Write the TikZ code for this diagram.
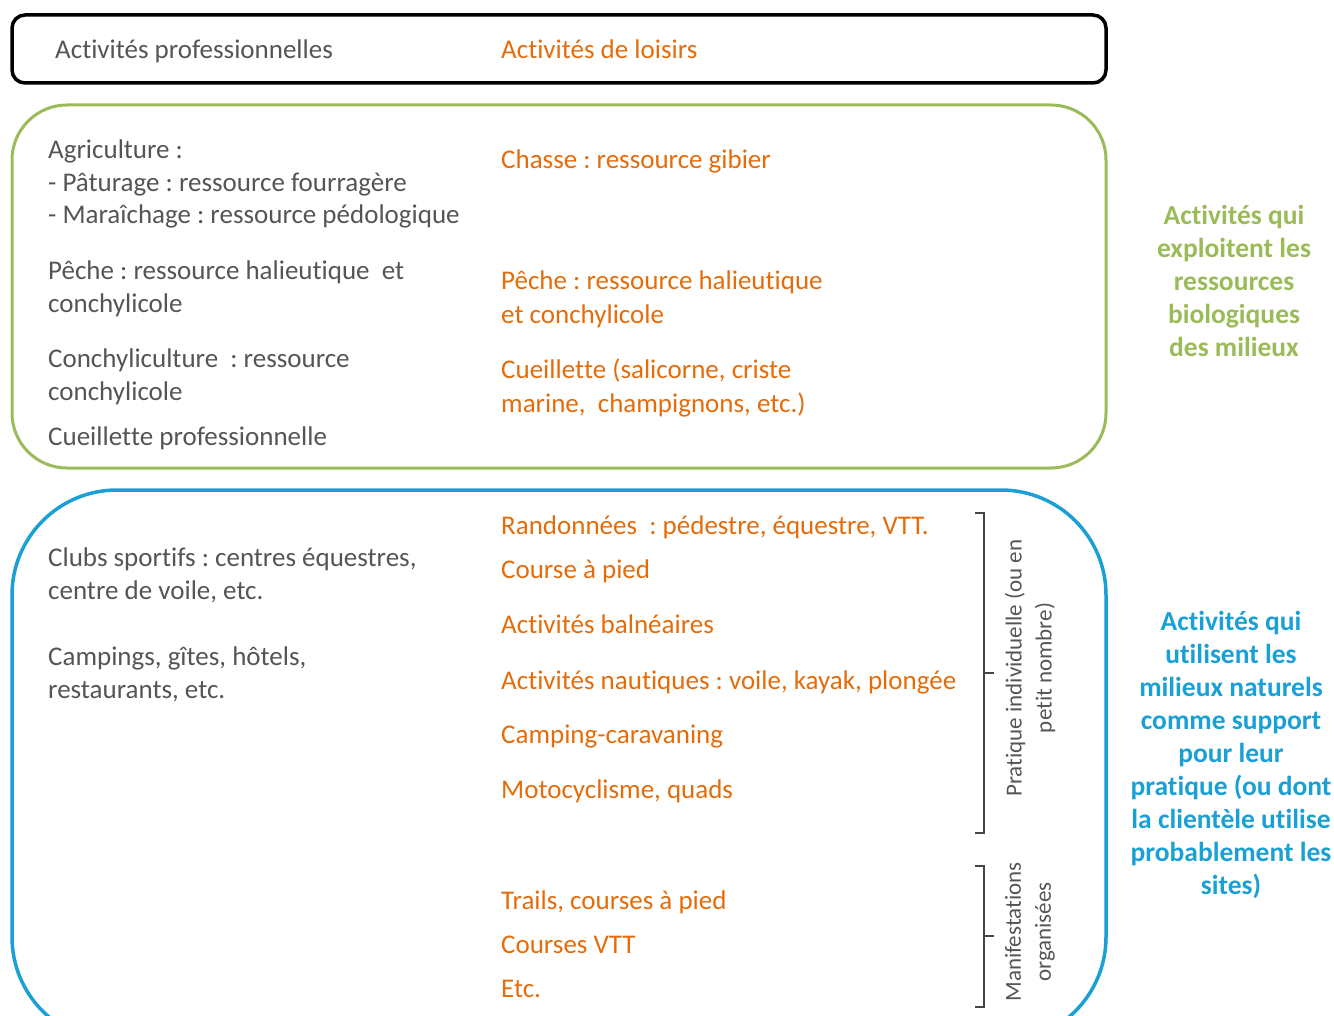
\documentclass[tikz,border=0pt]{standalone}
\usepackage{fontspec}
\setmainfont{Carlito}[Ligatures=CommonOff]
\usetikzlibrary{positioning}
\definecolor{txtgray}{RGB}{85,85,85}
\definecolor{orng}{RGB}{228,108,10}
\definecolor{grn}{RGB}{155,187,89}
\definecolor{blu}{RGB}{27,160,214}
\definecolor{bracegray}{RGB}{70,70,70}
\newcommand{\nolig}{\kern0pt}
\tikzset{
  pro/.style={anchor=base west, inner sep=0pt, text=txtgray, font=\frenchspacing\fontsize{27}{31}\selectfont},
  leis/.style={anchor=base west, inner sep=0pt, text=orng, font=\frenchspacing\fontsize{27}{31}\selectfont},
  sidelabel/.style={align=center, inner sep=0pt, font=\bfseries\fontsize{27.5}{33}\selectfont},
  rotlabel/.style={rotate=90, align=center, inner sep=0pt, text=txtgray, font=\fontsize{23}{30}\selectfont},
  bracestyle/.style={draw=bracegray, line width=1.3pt},
}
\begin{document}
\begin{tikzpicture}[x=1pt,y=-1pt]
\useasboundingbox (0,0) rectangle (1334,1016);
\clip (0,0) rectangle (1334,1016);
% frames
\draw[line width=3.5pt, draw=black, rounded corners=13pt] (12,15) rectangle (1106,83);
\draw[line width=3pt, draw=grn, rounded corners=55pt] (12,105) rectangle (1106,468);
\draw[line width=3.5pt, draw=blu, rounded corners=105pt] (12,490) rectangle (1106,1042);
% header
\node[pro]  (hpro) at (55,59) {Activités professionnelles};
\node[leis] (hlei) at (501,59) {Activités de loisirs};
% green box, professional
\node[pro] (agri) at (48,159) {Agriculture :};
\node[pro] (patu) at (48,192) {- Pâturage : ressource fourragère};
\node[pro] (mara) at (48,224) {- Maraîchage : ressource pédologique};
\node[pro] (pech1) at (48,280) {Pêche : ressource halieutique~ et};
\node[pro] (pech2) at (48,313) {conchylicole};
\node[pro] (conc1) at (48,367) {Conchyliculture~ : ressource};
\node[pro] (conc2) at (48,400) {conchylicole};
\node[pro] (cueip) at (48,445) {Cueillet\nolig te professionnelle};
% green box, leisure
\node[leis] (chas) at (501,169) {Chasse : ressource gibier};
\node[leis] (pechl1) at (501,290) {Pêche : ressource halieutique};
\node[leis] (pechl2) at (501,324) {et conchylicole};
\node[leis] (cueil1) at (501,379) {Cueillet\nolig te (salicorne, criste};
\node[leis] (cueil2) at (501,413) {marine,~ champignons, etc.)};
% blue box, professional
\node[pro] (club1) at (48,566) {Clubs sportifs : centres équestres,};
\node[pro] (club2) at (48,599) {centre de voile, etc.};
\node[pro] (camp1) at (48,665) {Campings, gîtes, hôtels,};
\node[pro] (camp2) at (48,698) {restaurants, etc.};
% blue box, leisure
\node[leis] (rand) at (501,534) {Randonnées~ : pédestre, équestre, VTT.};
\node[leis] (cour) at (501,578) {Course à pied};
\node[leis] (baln) at (501,633) {Activités balnéaires};
\node[leis] (naut) at (501,689) {Activités nautiques : voile, kayak, plongée};
\node[leis] (cara) at (501,743) {Camping-caravaning};
\node[leis] (moto) at (501,798) {Motocyclisme, quads};
\node[leis] (trai) at (501,909) {Trails, courses à pied};
\node[leis] (cvtt) at (501,953) {Courses VTT};
\node[leis] (etc)  at (501,997) {Etc.};
% braces
\coordinate (b1top) at (975,513);
\coordinate (b1mid) at (984,673);
\coordinate (b1bot) at (975,833);
\coordinate (b2top) at (975,866);
\coordinate (b2mid) at (984,936);
\coordinate (b2bot) at (975,1007);
\draw[bracestyle] (b1top) -| (b1mid) -- ++(10,0);
\draw[bracestyle] (b1mid) |- (b1bot);
\draw[bracestyle] (b2top) -| (b2mid) -- ++(10,0);
\draw[bracestyle] (b2mid) |- (b2bot);
\node[rotlabel] (indiv) at (1030,668) {Pratique individuelle (ou en\\petit nombre)};
\node[rotlabel] (manif) at (1030,932) {Manifestations\\organisées};
% side labels
\node[sidelabel, text=grn] (lgrn) at (1234,281) {Activités qui\\exploitent les\\ressources\\biologiques\\des milieux};
\node[sidelabel, text=blu] (lblu) at (1231,755) {Activités qui\\utilisent les\\milieux naturels\\comme support\\pour leur\\pratique (ou dont\\la clientèle utilise\\probablement les\\sites)};
\end{tikzpicture}
\end{document}
